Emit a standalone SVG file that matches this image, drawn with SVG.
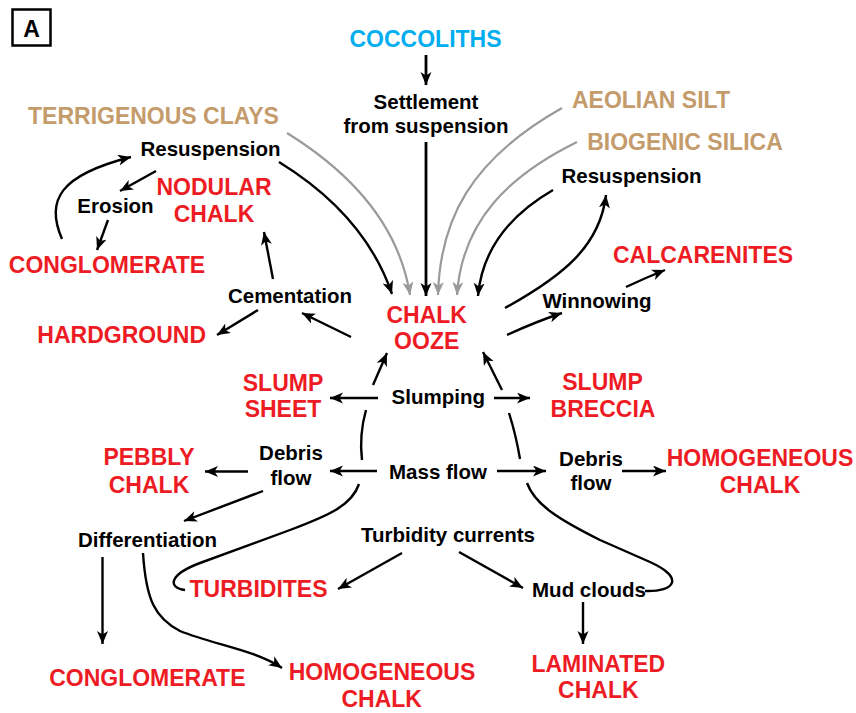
<svg xmlns="http://www.w3.org/2000/svg" width="856" height="713" viewBox="0 0 856 713">
<defs>
<style>
text{font-family:"Liberation Sans",Arial,sans-serif;font-weight:bold;text-anchor:middle}
.r{fill:#ed1c24;font-size:23px}
.t{fill:#c49b6b;font-size:23px}
.c{fill:#00aeef;font-size:23px}
.k{fill:#000;font-size:20.5px}
.ln{fill:none;stroke:#000;stroke-width:2.4}
.ln3{fill:none;stroke:#000;stroke-width:2.8}
.gy{fill:none;stroke:#9a9a9a;stroke-width:2.2}
.a{marker-end:url(#ah)}
.ag{marker-end:url(#ahg)}
</style>
<marker id="ah" markerUnits="userSpaceOnUse" markerWidth="14" markerHeight="12" refX="13" refY="5.5" orient="auto">
<path d="M0,0 L13,5.5 L0,11 L3.5,5.5 z" fill="#000"/>
</marker>
<marker id="ahg" markerUnits="userSpaceOnUse" markerWidth="14" markerHeight="12" refX="13" refY="5.5" orient="auto">
<path d="M0,0 L13,5.5 L0,11 L3.5,5.5 z" fill="#9a9a9a"/>
</marker>
</defs>
<rect width="856" height="713" fill="#fff"/>
<g id="panel-label">
<rect x="12.5" y="9.5" width="38" height="36" fill="#fff" stroke="#000" stroke-width="2.5"/>
<text x="31.5" y="36.5" style="font-size:23px">A</text>
</g>
<g id="connectors">
<path class="ln3 a" d="M426,55 L426,85"/>
<path class="ln3 a" d="M426,142 L426,296"/>
<path class="gy ag" d="M287,133 Q395,200 410,295"/>
<path class="ln a" d="M279,162 Q365,215 392,294"/>
<path class="gy ag" d="M562,108 C470,160 440,220 438,295"/>
<path class="gy ag" d="M577,142 C510,175 462,220 457,295"/>
<path class="ln a" d="M553,190 C510,215 482,250 478,296"/>
<path class="ln a" d="M505,308 C565,275 600,245 606,195"/>
<path class="ln a" d="M507,335 Q535,322 562,313"/>
<path class="ln a" d="M626,287 Q645,278 665,270"/>
<path class="ln a" d="M156,171 L120,191"/>
<path class="ln a" d="M108,220 L97,250"/>
<path class="ln a" d="M62,239 C45,200 60,175 131,157"/>
<path class="ln a" d="M273,279 L264,232"/>
<path class="ln a" d="M258,310 L217,335"/>
<path class="ln a" d="M351,337 L302,313"/>
<path class="ln a" d="M378,398 L330,398"/>
<path class="ln a" d="M494,398 L530,398"/>
<path class="ln a" d="M373,385 L387,353"/>
<path class="ln a" d="M502,390 L483,352"/>
<path class="ln" d="M366,410 Q359,435 362,460"/>
<path class="ln" d="M509,413 Q516,435 520,459"/>
<path class="ln a" d="M377,471 L330,471"/>
<path class="ln a" d="M497,471 L546,471"/>
<path class="ln a" d="M248,471.5 L205,471.5"/>
<path class="ln a" d="M263,491 L184,521"/>
<path class="ln a" d="M622,471 L666,471"/>
<path class="ln" d="M359,484 C352,505 330,515 290,530 L200,563 C168,575 168,588 185,590"/>
<path class="ln" d="M527,483 C535,505 560,520 600,540 L650,562 C685,578 675,592 645,591"/>
<path class="ln a" d="M402,553 L338,589"/>
<path class="ln a" d="M459,552 L523,588"/>
<path class="ln a" d="M583,602 L583,644"/>
<path class="ln a" d="M102.5,557 L102.5,644"/>
<path class="ln a" d="M143,553 C146,600 155,618 180,631 C215,645 255,650 282,668"/>
</g>
<g id="coccoliths"><text class="c" x="425.5" y="47">COCCOLITHS</text></g>
<g id="settlement"><text class="k" x="426" y="108.5">Settlement</text><text class="k" x="426" y="132.7">from suspension</text></g>
<g id="terrigenous-clays"><text class="t" x="153.5" y="124">TERRIGENOUS CLAYS</text></g>
<g id="aeolian-silt"><text class="t" x="651" y="108.3">AEOLIAN SILT</text></g>
<g id="biogenic-silica"><text class="t" x="685" y="150">BIOGENIC SILICA</text></g>
<g id="resuspension-left"><text class="k" x="210.5" y="156">Resuspension</text></g>
<g id="resuspension-right"><text class="k" x="631.5" y="182.5">Resuspension</text></g>
<g id="nodular-chalk"><text class="r" x="214" y="195">NODULAR</text><text class="r" x="214" y="221.7">CHALK</text></g>
<g id="erosion"><text class="k" x="115.5" y="213">Erosion</text></g>
<g id="conglomerate-top"><text class="r" x="107" y="273">CONGLOMERATE</text></g>
<g id="cementation"><text class="k" x="290" y="302.5">Cementation</text></g>
<g id="hardground"><text class="r" x="121.7" y="343">HARDGROUND</text></g>
<g id="chalk-ooze"><text class="r" x="426.7" y="322.7">CHALK</text><text class="r" x="426.7" y="349.3">OOZE</text></g>
<g id="calcarenites"><text class="r" x="703" y="262.7">CALCARENITES</text></g>
<g id="winnowing"><text class="k" x="597" y="307.5">Winnowing</text></g>
<g id="slump-sheet"><text class="r" x="283" y="390.7">SLUMP</text><text class="r" x="283" y="416.7">SHEET</text></g>
<g id="slumping"><text class="k" x="438.3" y="404">Slumping</text></g>
<g id="slump-breccia"><text class="r" x="602.5" y="390">SLUMP</text><text class="r" x="603" y="416.7">BRECCIA</text></g>
<g id="pebbly-chalk"><text class="r" x="149" y="465">PEBBLY</text><text class="r" x="149" y="493">CHALK</text></g>
<g id="debris-flow-left"><text class="k" x="291" y="460">Debris</text><text class="k" x="291" y="485">flow</text></g>
<g id="mass-flow"><text class="k" x="438" y="479">Mass flow</text></g>
<g id="debris-flow-right"><text class="k" x="591" y="466">Debris</text><text class="k" x="591" y="490">flow</text></g>
<g id="homogeneous-chalk-right"><text class="r" x="760" y="466">HOMOGENEOUS</text><text class="r" x="760" y="492.7">CHALK</text></g>
<g id="differentiation"><text class="k" x="147.5" y="547">Differentiation</text></g>
<g id="turbidity-currents"><text class="k" x="448" y="541.5">Turbidity currents</text></g>
<g id="turbidites"><text class="r" x="258.5" y="596.7">TURBIDITES</text></g>
<g id="mud-clouds"><text class="k" x="589" y="596.7">Mud clouds</text></g>
<g id="conglomerate-bottom"><text class="r" x="147.3" y="686">CONGLOMERATE</text></g>
<g id="homogeneous-chalk-bottom"><text class="r" x="382" y="680">HOMOGENEOUS</text><text class="r" x="381.7" y="706.7">CHALK</text></g>
<g id="laminated-chalk"><text class="r" x="598.3" y="671.7">LAMINATED</text><text class="r" x="598.3" y="698.3">CHALK</text></g>
</svg>
